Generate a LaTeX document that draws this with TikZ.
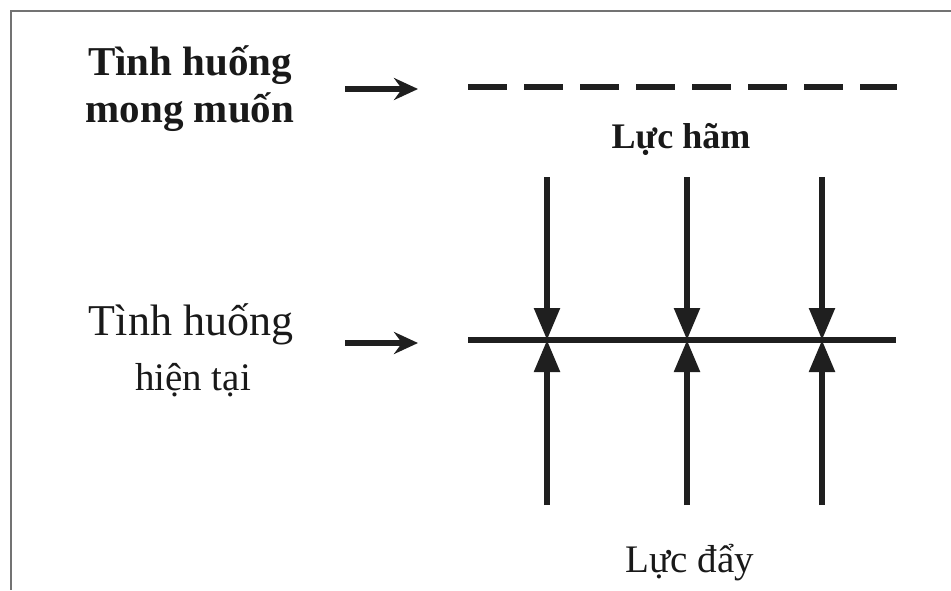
\documentclass[tikz,border=0pt]{standalone}
\usepackage{fontspec}
\setmainfont{Liberation Serif}
\usetikzlibrary{arrows.meta}
\begin{document}
\begin{tikzpicture}[x=1pt,y=-1pt,
  lbl/.style={inner sep=0pt,anchor=base,text=black!90},
  thick line/.style={line width=5.5pt,draw=black!88},
  sidearrow/.style={thick line,-{Stealth[length=24pt,width=22pt,inset=8pt]}},
  forcearrow/.style={thick line,-{Triangle[length=32pt,width=25pt]}},
  frame/.style={draw=black!55,line width=1.8pt}]
\useasboundingbox (0,0) rectangle (951,590);
\draw[frame] (951,11) -- (11,11) -- (11,590);
% labels
\node[lbl,font=\bfseries\fontsize{41}{46}\selectfont] (t1a) at (190,75) {Tình huống};
\node[lbl,font=\bfseries\fontsize{41}{46}\selectfont] (t1b) at (190,122) {mong muốn};
\node[lbl,font=\fontsize{44}{48}\selectfont] (t2a) at (191,335) {Tình huống};
\node[lbl,font=\fontsize{39}{44}\selectfont] (t2b) at (193,390) {hiện tại};
\node[lbl,font=\bfseries\fontsize{36}{40}\selectfont] (ham) at (681,148) {Lực hãm};
\node[lbl,font=\fontsize{39}{44}\selectfont] (day) at (690,572) {Lực đẩy};
% side arrows
\coordinate (a1s) at (345,89); \coordinate (a1e) at (418,89);
\coordinate (a2s) at (345,343); \coordinate (a2e) at (418,343);
\draw[sidearrow] (a1s) -- (a1e);
\draw[sidearrow] (a2s) -- (a2e);
% desired (dashed) and current lines
\coordinate (dl) at (468,87); \coordinate (dr) at (897,87);
\draw[thick line,dash pattern=on 39pt off 17pt] (dl) -- (dr);
\coordinate (cl) at (468,340); \coordinate (cr) at (896,340);
\draw[thick line] (cl) -- (cr);
% forces
\foreach \i/\x in {1/547,2/687,3/822}{
  \coordinate (top\i) at (\x,177);
  \coordinate (mid\i) at (\x,340);
  \coordinate (bot\i) at (\x,505);
  \draw[forcearrow] (top\i) -- (mid\i);
  \draw[forcearrow] (bot\i) -- (mid\i);
}
\end{tikzpicture}
\end{document}
